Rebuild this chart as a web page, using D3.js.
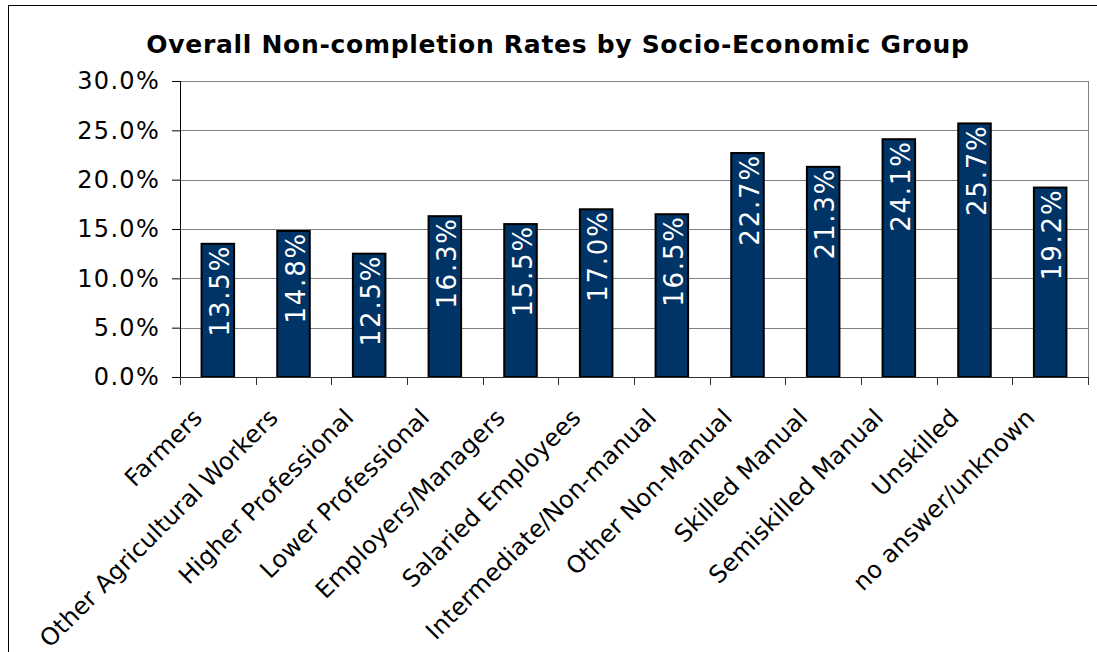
<!DOCTYPE html>
<html>
<head>
<meta charset="utf-8">
<script src="https://cdn.jsdelivr.net/npm/d3@7"></script>
<style>
  body { margin: 0; background: #fff; }
  text { font-family: "DejaVu Sans", Verdana, sans-serif; }
</style>
</head>
<body>
<div id="chart"></div>
<script>
// chart data
const categories = ["Farmers", "Other Agricultural Workers", "Higher Professional", "Lower Professional",
  "Employers/Managers", "Salaried Employees", "Intermediate/Non-manual", "Other Non-Manual",
  "Skilled Manual", "Semiskilled Manual", "Unskilled", "no answer/unknown"];
const rates = [13.5, 14.8, 12.5, 16.3, 15.5, 17.0, 16.5, 22.7, 21.3, 24.1, 25.7, 19.2];
const yTicks = [0, 5, 10, 15, 20, 25, 30];

const W = 1097, H = 652;
const margin = { top: 81, right: 9, bottom: 275, left: 180 };
const width = W - margin.left - margin.right;
const height = H - margin.top - margin.bottom;

const svg = d3.select("#chart").append("svg")
    .attr("width", W)
    .attr("height", H);

// outer frame
svg.append("rect")
    .attr("x", 8.5).attr("y", 5.5)
    .attr("width", 1100).attr("height", 700)
    .attr("fill", "none")
    .attr("stroke", "#000");

svg.append("text")
    .attr("x", 558)
    .attr("y", 53)
    .attr("text-anchor", "middle")
    .style("font-weight", "bold")
    .style("font-size", "25px")
    .style("letter-spacing", "0.7px")
    .text("Overall Non-completion Rates by Socio-Economic Group");

const g = svg.append("g")
    .attr("transform", "translate(" + margin.left + "," + margin.top + ")");

const x = d3.scaleBand()
    .domain(categories)
    .range([0, width])
    .paddingInner(0.57)
    .paddingOuter(0.285);

const y = d3.scaleLinear()
    .domain([0, 30])
    .range([height, 0]);

// gridlines
g.selectAll(".grid")
    .data(yTicks)
    .enter()
    .append("line")
    .attr("x1", 0).attr("x2", width)
    .attr("y1", d => Math.round(y(d)) + 0.5)
    .attr("y2", d => Math.round(y(d)) + 0.5)
    .attr("stroke", "#808080");

// right border of plot
g.append("line")
    .attr("x1", width + 0.5).attr("x2", width + 0.5)
    .attr("y1", 0).attr("y2", height)
    .attr("stroke", "#808080");

// bars
g.selectAll(".bar")
    .data(rates)
    .enter()
    .append("rect")
    .attr("x", (d, i) => x(categories[i]))
    .attr("y", d => y(d))
    .attr("width", x.bandwidth())
    .attr("height", d => height - y(d))
    .attr("fill", "#003366")
    .attr("stroke", "#000")
    .attr("stroke-width", 2);

// value labels inside bars
g.selectAll(".lbl")
    .data(rates)
    .enter()
    .append("text")
    .attr("transform", (d, i) => "translate(" + (x(categories[i]) + x.bandwidth() / 2 + 11) + "," + (y(d) + 1) + ") rotate(-90)")
    .attr("text-anchor", "end")
    .attr("fill", "#fff")
    .style("font-size", "26px")
    .style("letter-spacing", "1.8px")
    .text(d => d.toFixed(1) + "%");

// y axis
const yAxis = g.append("g")
    .call(d3.axisLeft(y).tickValues(yTicks).tickSize(8).tickFormat(d => d.toFixed(1) + "%"));
yAxis.select(".domain").attr("stroke", "#000");
yAxis.selectAll("text")
    .style("font-size", "24px")
    .style("letter-spacing", "1.3px")
    .attr("x", -20)
    .attr("fill", "#000");

// x axis: ticks at band boundaries
const xAxis = g.append("g")
    .attr("transform", "translate(0," + height + ")");
xAxis.append("line")
    .attr("x1", 0).attr("x2", width)
    .attr("y1", 0.5).attr("y2", 0.5)
    .attr("stroke", "#303030");
xAxis.selectAll(".tk")
    .data(d3.range(categories.length + 1))
    .enter()
    .append("line")
    .attr("x1", i => Math.round(i * width / categories.length) + 0.5)
    .attr("x2", i => Math.round(i * width / categories.length) + 0.5)
    .attr("y1", 0).attr("y2", 8)
    .attr("stroke", "#303030");

xAxis.selectAll(".cat")
    .data(categories)
    .enter()
    .append("text")
    .attr("transform", d => "translate(" + (x(d) + x.bandwidth() / 2 - 14) + ",42) rotate(-45)")
    .attr("text-anchor", "end")
    .style("font-size", "24px")
    .style("letter-spacing", "0.2px")
    .text(d => d);
</script>
</body>
</html>
